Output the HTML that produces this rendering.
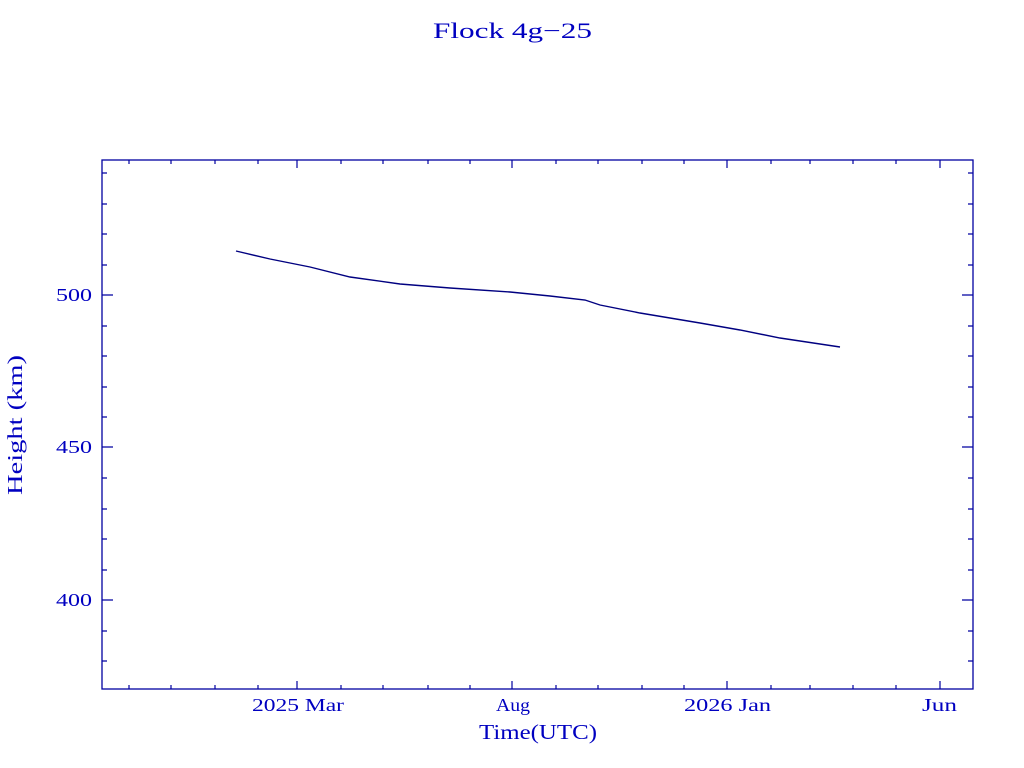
<!DOCTYPE html>
<html><head><meta charset="utf-8"><style>
html,body{margin:0;padding:0;background:#fff;}
svg{display:block;}
text{font-family:"Liberation Serif",serif;fill:#0000c0;}
</style></head><body>
<svg width="1024" height="768" viewBox="0 0 1024 768">
<text x="433" y="38" font-size="22" textLength="159" lengthAdjust="spacingAndGlyphs">Flock 4g−25</text>
<rect x="102" y="160" width="871" height="529" fill="none" stroke="#0000a0" stroke-width="1.3"/>
<g stroke="#0000a0" stroke-width="1.2" fill="none">
<path d="M129,689v-4M171,689v-4M215,689v-4M258,689v-4M297,689v-8M341,689v-4M383,689v-4M428,689v-4M470,689v-4M512,689v-8M556,689v-4M598,689v-4M642,689v-4M684,689v-4M727,689v-8M771,689v-4M810,689v-4M853,689v-4M896,689v-4M940,689v-8"/>
<path d="M129,160v4M171,160v4M215,160v4M258,160v4M297,160v8M341,160v4M383,160v4M428,160v4M470,160v4M512,160v8M556,160v4M598,160v4M642,160v4M684,160v4M727,160v8M771,160v4M810,160v4M853,160v4M896,160v4M940,160v8"/>
<path d="M102,173h5M102,204h5M102,234h5M102,265h5M102,295h11M102,326h5M102,356h5M102,387h5M102,417h5M102,447h11M102,478h5M102,509h5M102,539h5M102,570h5M102,600h11M102,631h5M102,661h5"/>
<path d="M973,173h-5M973,204h-5M973,234h-5M973,265h-5M973,295h-11M973,326h-5M973,356h-5M973,387h-5M973,417h-5M973,447h-11M973,478h-5M973,509h-5M973,539h-5M973,570h-5M973,600h-11M973,631h-5M973,661h-5"/>
</g>
<polyline fill="none" stroke="#000080" stroke-width="1.4" points="236,251 270,259 310,267 350,277 400,284 450,288 510,292 550,296 585,300 600,305 640,313 700,323 740,330 780,338 840,347"/>
<g font-size="18" lengthAdjust="spacingAndGlyphs">
<text x="56" y="301" textLength="36" lengthAdjust="spacingAndGlyphs">500</text>
<text x="56" y="453" textLength="36" lengthAdjust="spacingAndGlyphs">450</text>
<text x="56" y="606" textLength="36" lengthAdjust="spacingAndGlyphs">400</text>
<text x="252" y="711" textLength="92" lengthAdjust="spacingAndGlyphs">2025 Mar</text>
<text x="496" y="711" textLength="34" lengthAdjust="spacingAndGlyphs">Aug</text>
<text x="684" y="711" textLength="87" lengthAdjust="spacingAndGlyphs">2026 Jan</text>
<text x="922" y="711" textLength="35" lengthAdjust="spacingAndGlyphs">Jun</text>
</g>
<text x="479" y="739" font-size="21" textLength="118" lengthAdjust="spacingAndGlyphs">Time(UTC)</text>
<text transform="translate(22,495) rotate(-90)" font-size="21" textLength="140" lengthAdjust="spacingAndGlyphs">Height (km)</text>
</svg>
</body></html>
